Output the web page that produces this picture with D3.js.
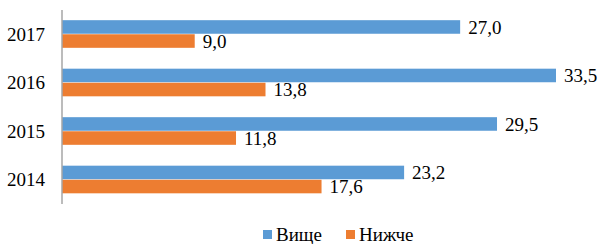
<!DOCTYPE html>
<html>
<head>
<meta charset="utf-8">
<script src="https://cdn.jsdelivr.net/npm/d3@7"></script>
<style>
  body { margin: 0; background: #fff; }
</style>
</head>
<body>
<svg id="chart" width="600" height="244"></svg>
<script>
// data
const years = ["2017", "2016", "2015", "2014"];
const vysche = [27.0, 33.5, 29.5, 23.2];
const nyzhche = [9.0, 13.8, 11.8, 17.6];
const seriesNames = ["Вище", "Нижче"];
const colors = ["#5b9bd5", "#ed7d31"];

const width = 600, height = 244;
const margin = { top: 10, right: 44, bottom: 40, left: 62 };
const fontFam = "'Liberation Serif', monospace";

const svg = d3.select("#chart");

const x = d3.scaleLinear()
  .domain([0, 33.5])
  .range([margin.left, 556]);

const y = d3.scaleBand()
  .domain(years)
  .range([margin.top, height - margin.bottom])
  .paddingInner(0.42)
  .paddingOuter(0.21);

const inner = d3.scaleBand()
  .domain([0, 1])
  .range([0, y.bandwidth()]);

const fmt = v => v.toFixed(1).replace(".", ",");

const rows = years.map((yr, i) => ({ year: yr, vals: [vysche[i], nyzhche[i]] }));

const groups = svg.selectAll("g.year")
  .data(rows)
  .enter()
  .append("g")
  .attr("class", "year")
  .attr("transform", d => "translate(0," + y(d.year) + ")");

groups.selectAll("rect")
  .data(d => d.vals)
  .enter()
  .append("rect")
  .attr("x", x(0))
  .attr("y", (d, i) => inner(i))
  .attr("width", d => x(d) - x(0))
  .attr("height", inner.bandwidth() - 0.5)
  .attr("fill", (d, i) => colors[i]);

groups.selectAll("text")
  .data(d => d.vals)
  .enter()
  .append("text")
  .attr("x", d => x(d) + 8)
  .attr("y", (d, i) => inner(i) + inner.bandwidth() / 2)
  .attr("dy", "0.35em")
  .style("font-family", fontFam)
  .style("font-size", "19px")
  .text(d => fmt(d));

// category axis
svg.append("line")
  .attr("x1", x(0)).attr("x2", x(0))
  .attr("y1", margin.top).attr("y2", height - margin.bottom)
  .attr("stroke", "#a6a6a6")
  .attr("stroke-width", 1.5);

svg.selectAll("text.ylab")
  .data(years)
  .enter()
  .append("text")
  .attr("class", "ylab")
  .attr("x", 45)
  .attr("y", d => y(d) + y.bandwidth() / 2)
  .attr("dy", "0.35em")
  .attr("text-anchor", "end")
  .style("font-family", fontFam)
  .style("font-size", "19px")
  .text(d => d);

// legend
const legendX = [263, 346];
const legend = svg.selectAll("g.legend")
  .data(seriesNames)
  .enter()
  .append("g")
  .attr("class", "legend")
  .attr("transform", (d, i) => "translate(" + legendX[i] + ",230)");

legend.append("rect")
  .attr("width", 9).attr("height", 9)
  .attr("fill", (d, i) => colors[i]);

legend.append("text")
  .attr("x", 13)
  .attr("y", 4.5)
  .attr("dy", "0.33em")
  .style("font-family", fontFam)
  .style("font-size", "19px")
  .text(d => d);
</script>
</body>
</html>
